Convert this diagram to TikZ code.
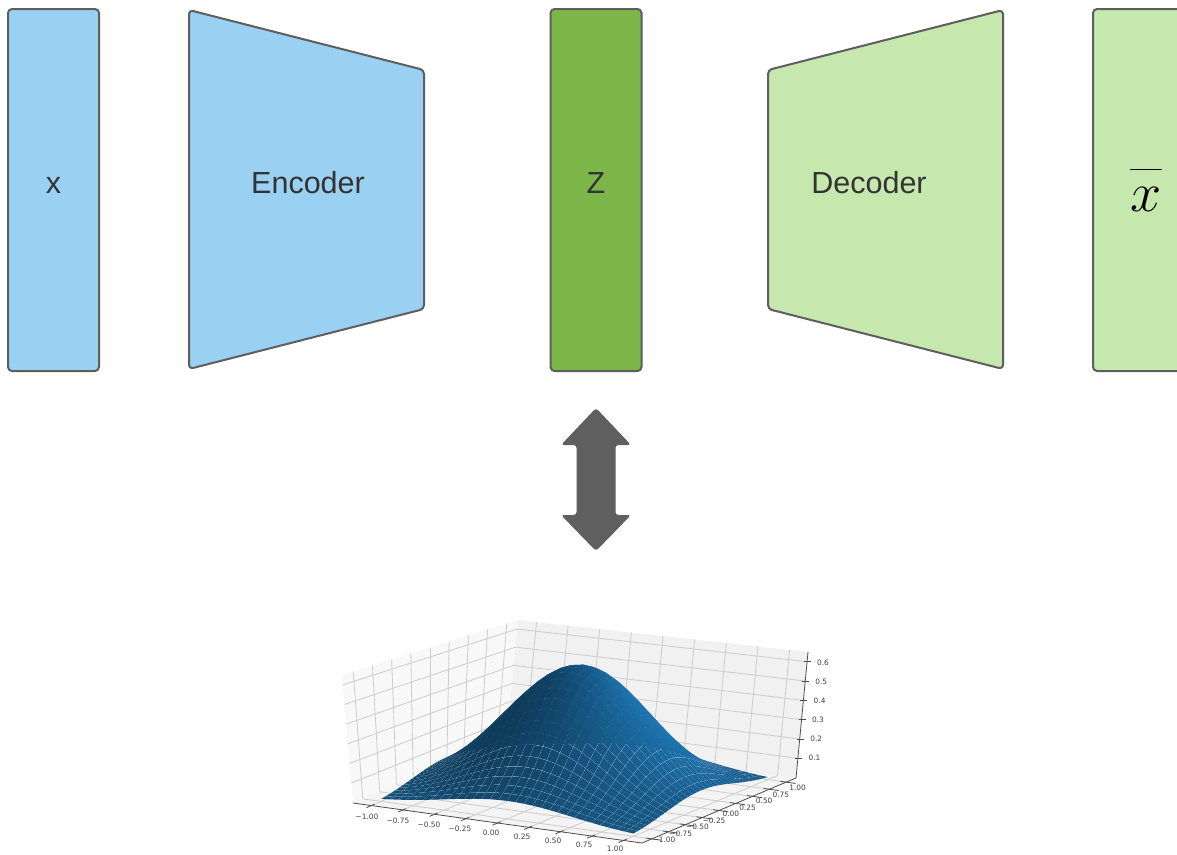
\documentclass[tikz,border=0pt]{standalone}
\usepackage{graphicx}
\usepackage{fontspec}
\setmainfont{Liberation Sans}
\newfontfamily\tickfont{DejaVu Sans}
\usetikzlibrary{calc}

\definecolor{inblue}{HTML}{9AD1F2}
\definecolor{zgreen}{HTML}{7CB649}
\definecolor{outgreen}{HTML}{C6E8AE}
\definecolor{edgegray}{HTML}{5E5E5E}
\definecolor{labelgray}{HTML}{333333}
\definecolor{arrowgray}{HTML}{5F5F5F}
\definecolor{panex}{gray}{0.972}
\definecolor{paney}{gray}{0.945}
\definecolor{panez}{gray}{0.958}
\definecolor{gridgray}{gray}{0.80}

% perspective-like map of a data point (x,y,z) of the 3D axes to the page
\newcommand\vproj[3]{%
  \pgfmathsetmacro\pu{((#1)+1.146)/2.292}%
  \pgfmathsetmacro\pv{((#2)+1.146)/2.292}%
  \pgfmathsetmacro\pw{((#3)+0.0013)/0.6513}%
  \pgfmathsetmacro\px{353+289*\pu+154*\pv+\pw*(-11+16*\pu+22*\pv-15*\pu*\pv)}%
  \pgfmathsetmacro\py{803+40*\pu-65*\pv+\pw*(-128-12*\pu+10*\pv+4*\pu*\pv)}%
}

\tikzset{
  block/.style={draw=edgegray, line width=2pt, rounded corners=4pt},
  lbl/.style={text=labelgray, font=\fontsize{30.5}{30.5}\selectfont, anchor=base, inner sep=0pt},
  gridline/.style={draw=gridgray, line width=0.8pt},
  axisline/.style={draw=black!70, line width=0.8pt},
  ticklbl/.style={font=\tickfont\fontsize{7.4}{7.4}\selectfont, text=black!75, inner sep=0pt},
}

\begin{document}
\begin{tikzpicture}[x=1pt, y=-1pt, line join=round]
\clip (0,0) rectangle (1177,854);
\fill[white] (0,0) rectangle (1177,854);

% ---------- network blocks ----------
\node[block, fill=inblue, minimum width=91pt, minimum height=362pt, inner sep=0pt] (xin) at (53.5,190) {};
\draw[block, fill=inblue] (189,10) -- (424,70) -- (424,309) -- (189,369) -- cycle;
\node[block, fill=zgreen, minimum width=91pt, minimum height=362pt, inner sep=0pt] (zlat) at (596,190) {};
\draw[block, fill=outgreen] (768,70) -- (1003,10) -- (1003,369) -- (768,309) -- cycle;
\node[block, fill=outgreen, minimum width=104pt, minimum height=362pt, inner sep=0pt] (xout) at (1145,190) {};

\node[lbl] (xinlbl) at (53.5,193.5) {x};
\node[lbl] (enclbl) at (308,193.5) {Encoder};
\node[lbl] (zlbl) at (596,193.5) {Z};
\node[lbl] (declbl) at (869,193.5) {Decoder};
\node[anchor=base, inner sep=0pt] (xoutlbl) at (1146,211)
  {\scalebox{2.25}{\fontsize{24.88}{28}\selectfont$\overline{x\vrule height 0.68em width 0pt}$}};

% ---------- two-headed arrow ----------
\coordinate (arrowmid) at (596,479.5);
\fill[arrowgray, rounded corners=3pt]
  ($(arrowmid)+(0,-71.5)$) -- ($(arrowmid)+(35,-34.5)$) -- ($(arrowmid)+(19.5,-34.5)$)
  -- ($(arrowmid)+(19.5,35.5)$) -- ($(arrowmid)+(35,35.5)$) -- ($(arrowmid)+(0,71.5)$)
  -- ($(arrowmid)+(-35,35.5)$) -- ($(arrowmid)+(-19.5,35.5)$) -- ($(arrowmid)+(-19.5,-34.5)$)
  -- ($(arrowmid)+(-35,-34.5)$) -- cycle;

% ---------- 3D axes: panes ----------
\coordinate (bA) at (353,803); \coordinate (bB) at (642,843);
\coordinate (bC) at (796,778); \coordinate (bD) at (507,738);
\coordinate (tA) at (342,675); \coordinate (tB) at (647,703);
\coordinate (tC) at (808,652); \coordinate (tD) at (518,620);
\fill[panex] (bA) -- (bD) -- (tD) -- (tA) -- cycle;
\fill[paney] (bD) -- (bC) -- (tC) -- (tD) -- cycle;
\fill[panez] (bA) -- (bB) -- (bC) -- (bD) -- cycle;

% grid on the panes
\foreach \t in {-1,-0.75,...,1.01}{
  \vproj{-1.146}{\t}{-0.0013}\coordinate (ga) at (\px,\py);
  \vproj{-1.146}{\t}{0.65}\coordinate (gb) at (\px,\py);
  \draw[gridline] (ga) -- (gb);
  \vproj{\t}{1.146}{-0.0013}\coordinate (ga) at (\px,\py);
  \vproj{\t}{1.146}{0.65}\coordinate (gb) at (\px,\py);
  \draw[gridline] (ga) -- (gb);
  \vproj{\t}{-1.146}{-0.0013}\coordinate (ga) at (\px,\py);
  \vproj{\t}{1.146}{-0.0013}\coordinate (gb) at (\px,\py);
  \draw[gridline] (ga) -- (gb);
  \vproj{-1.146}{\t}{-0.0013}\coordinate (ga) at (\px,\py);
  \vproj{1.146}{\t}{-0.0013}\coordinate (gb) at (\px,\py);
  \draw[gridline] (ga) -- (gb);
}
\foreach \t in {0.1,0.2,0.3,0.4,0.5,0.6}{
  \vproj{-1.146}{-1.146}{\t}\coordinate (ga) at (\px,\py);
  \vproj{-1.146}{1.146}{\t}\coordinate (gb) at (\px,\py);
  \vproj{1.146}{1.146}{\t}\coordinate (gc) at (\px,\py);
  \draw[gridline] (ga) -- (gb) -- (gc);
}

% axis lines and ticks
\draw[axisline] (bA) -- (bB) -- (bC) -- (tC);
\foreach \t in {-1,-0.75,...,1.01}{
  \vproj{\t}{-1.10}{-0.0013}\coordinate (ga) at (\px,\py);
  \vproj{\t}{-1.22}{-0.0013}\coordinate (gb) at (\px,\py);
  \draw[axisline] (ga) -- (gb);
  \vproj{1.10}{\t}{-0.0013}\coordinate (ga) at (\px,\py);
  \vproj{1.22}{\t}{-0.0013}\coordinate (gb) at (\px,\py);
  \draw[axisline] (ga) -- (gb);
}
\foreach \t in {0.1,0.2,0.3,0.4,0.5,0.6}{
  \vproj{1.146}{1.146}{\t}\coordinate (ga) at (\px,\py);
  \draw[axisline] ($(ga)+(-3,0)$) -- ($(ga)+(4,0)$);
}

% tick labels
\foreach \s [count=\k from 0] in {−1.00,−0.75,−0.50,−0.25,0.00,0.25,0.50,0.75,1.00}{
  \node[ticklbl] (xt\k) at (367+31*\k, 817+4.0*\k) {\s};
  \node[ticklbl] (yt\k) at (664+16.7*\k, 840-6.5*\k) {\s};
}
\foreach \s [count=\k from 0] in {0.1,0.2,0.3,0.4,0.5,0.6}{
  \node[ticklbl] (zt\k) at (814.5+1.7*\k, 758-19.1*\k) {\s};
}

% ---------- surface z = N(0, 0.25 I) density ----------
\foreach \i in {0,...,30}{
  \foreach \j in {0,...,30}{
    \pgfmathsetmacro\vx{-1+\i/15}
    \pgfmathsetmacro\vy{-1+\j/15}
    \pgfmathsetmacro\vz{0.6366*exp(-2*((\vx)*(\vx)+(\vy)*(\vy)))}
    \vproj{\vx}{\vy}{\vz}
    \coordinate (s-\i-\j) at (\px,\py);
  }
}
% facets painted back to front, each a little inset so the seams show what lies behind
\foreach \j in {29,28,...,0}{
  \foreach \i in {0,...,29}{
    \pgfmathtruncatemacro\ii{\i+1}
    \pgfmathtruncatemacro\jj{\j+1}
    \pgfmathsetmacro\cx{-1+(\i+0.5)/15}
    \pgfmathsetmacro\cy{-1+(\j+0.5)/15}
    \pgfmathsetmacro\cf{0.6366*exp(-2*((\cx)*(\cx)+(\cy)*(\cy)))}
    \pgfmathsetmacro\gx{-4*(\cx)*\cf}
    \pgfmathsetmacro\gy{-4*(\cy)*\cf}
    \pgfmathsetmacro\sh{(-(\gx)-(\gy)-0.5)/sqrt((\gx)*(\gx)+(\gy)*(\gy)+1)}
    \pgfmathsetmacro\fac{0.5+0.5*(\sh+1.26)/1.7286}
    \pgfmathtruncatemacro\cr{31*\fac}
    \pgfmathtruncatemacro\cg{119*\fac}
    \pgfmathtruncatemacro\cb{180*\fac}
    \definecolor{pc}{RGB}{\cr,\cg,\cb}
    \coordinate (pm) at ($(s-\i-\j)!0.5!(s-\ii-\jj)$);
    \fill[pc] ($(pm)!0.972!(s-\i-\j)$) -- ($(pm)!0.972!(s-\ii-\j)$)
      -- ($(pm)!0.972!(s-\ii-\jj)$) -- ($(pm)!0.972!(s-\i-\jj)$) -- cycle;
  }
}
\end{tikzpicture}
\end{document}
